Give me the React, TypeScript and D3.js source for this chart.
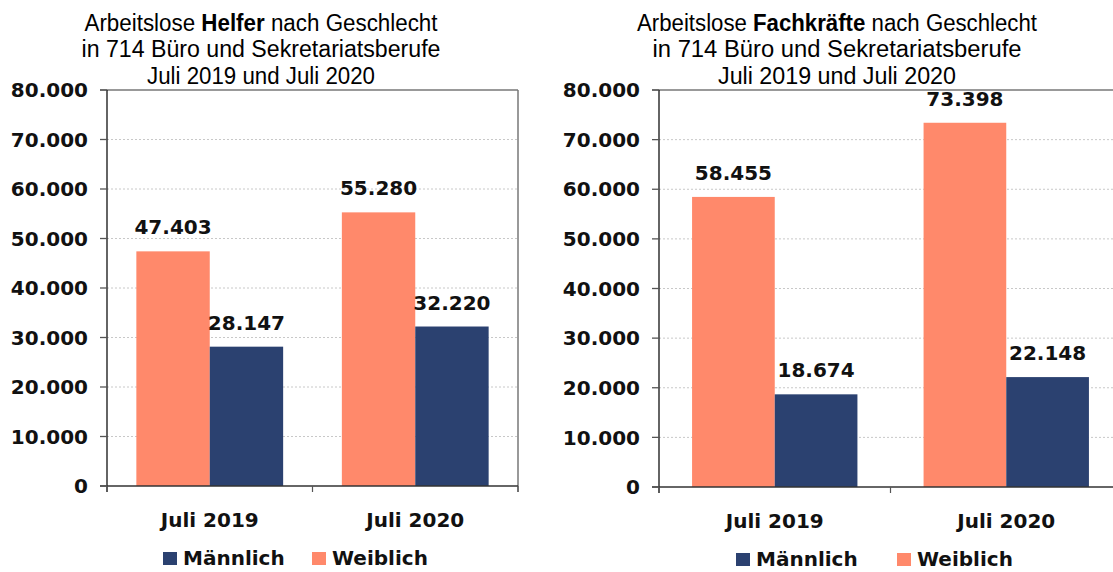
import * as d3 from 'd3';

// Kategorien und Werte (Arbeitslose, Juli 2019 / Juli 2020)
const categories = ['Juli 2019', 'Juli 2020'];
const seriesNames = ['Weiblich', 'Männlich'];
const legendOrder = ['Männlich', 'Weiblich'];

const helferWeiblich = [47403, 55280];
const helferMaennlich = [28147, 32220];
const fachWeiblich = [58455, 73398];
const fachMaennlich = [18674, 22148];

const yTicks = [0, 10000, 20000, 30000, 40000, 50000, 60000, 70000, 80000];

const colors: Record<string, string> = { 'Weiblich': '#FF896B', 'Männlich': '#2B4170' };

const de = d3.formatLocale({ decimal: ',', thousands: '.', grouping: [3], currency: ['', ' €'] });
const fmt = de.format(',d');

const BOLD = '"DejaVu Sans", Verdana, sans-serif';
const TITLE = '"Liberation Sans", Arial, sans-serif';

interface PanelProps {
  keyword: string;
  weiblich: number[];
  maennlich: number[];
  left: number;
  right: number;
  top: number;
  bottom: number;
  titleX: number;
  titleLens: number[];
  labelY: number;
  legendY: number;
  legendX: number[];
}

function Panel(p: PanelProps) {
  const y = d3.scaleLinear().domain([0, 80000]).range([p.bottom, p.top]);
  const x0 = d3.scaleBand().domain(categories).range([p.left, p.right]).padding(0);
  const x1 = d3.scaleBand().domain(seriesNames).range([0, x0.bandwidth()]).paddingInner(0).paddingOuter(0.4);
  const values: Record<string, number[]> = { 'Weiblich': p.weiblich, 'Männlich': p.maennlich };
  const edges = [...categories.map((c) => x0(c) ?? 0), p.right];

  return (
    <g>
      <text x={p.titleX} y={31} textAnchor="middle" fontFamily={TITLE} fontSize={23} textLength={p.titleLens[0]} lengthAdjust="spacingAndGlyphs">
        Arbeitslose <tspan fontWeight="bold">{p.keyword}</tspan> nach Geschlecht
      </text>
      <text x={p.titleX} y={57} textAnchor="middle" fontFamily={TITLE} fontSize={23} textLength={p.titleLens[1]} lengthAdjust="spacingAndGlyphs">
        in 714 Büro und Sekretariatsberufe
      </text>
      <text x={p.titleX} y={84} textAnchor="middle" fontFamily={TITLE} fontSize={23} textLength={p.titleLens[2]} lengthAdjust="spacingAndGlyphs">
        Juli 2019 und Juli 2020
      </text>

      {yTicks.filter((t) => t > 0 && t < 80000).map((t) => (
        <line key={'g' + t} x1={p.left} x2={p.right} y1={y(t)} y2={y(t)} stroke="#c8c8c8" strokeDasharray="2,2" />
      ))}

      {categories.map((c, i) => seriesNames.map((s) => {
        const v = values[s][i];
        const bx = (x0(c) ?? 0) + (x1(s) ?? 0);
        return (
          <g key={c + s}>
            <rect x={bx} y={y(v)} width={x1.bandwidth()} height={y(0) - y(v)} fill={colors[s]} />
            <text x={bx + x1.bandwidth() / 2} y={y(v) - 17} textAnchor="middle" fontFamily={BOLD} fontWeight="bold" fontSize={20} fill="#111">
              {fmt(v)}
            </text>
          </g>
        );
      }))}

      <line x1={p.left - 7} x2={p.right} y1={p.top} y2={p.top} stroke="#777" strokeWidth={1.5} />
      <line x1={p.right} x2={p.right} y1={p.top} y2={p.bottom + 6} stroke="#777" strokeWidth={1.5} />
      <line x1={p.left} x2={p.left} y1={p.top} y2={p.bottom + 6} stroke="#111" strokeWidth={1.3} />
      <line x1={p.left - 7} x2={p.right} y1={p.bottom} y2={p.bottom} stroke="#333" strokeWidth={1.5} />
      {edges.map((ex, i) => (
        <line key={'xt' + i} x1={ex} x2={ex} y1={p.bottom} y2={p.bottom + 6} stroke="#555" strokeWidth={1.2} />
      ))}

      {yTicks.map((t) => (
        <g key={'t' + t}>
          <line x1={p.left - 7} x2={p.left} y1={y(t)} y2={y(t)} stroke="#555" strokeWidth={1.3} />
          <text x={p.left - 19} y={y(t)} dy="0.36em" textAnchor="end" fontFamily={BOLD} fontWeight="bold" fontSize={20} fill="#111">
            {t === 0 ? '0' : fmt(t)}
          </text>
        </g>
      ))}

      {categories.map((c) => (
        <text key={'c' + c} x={(x0(c) ?? 0) + x0.bandwidth() / 2} y={p.labelY} textAnchor="middle" fontFamily={BOLD} fontWeight="bold" fontSize={20} fill="#111">
          {c}
        </text>
      ))}

      {legendOrder.map((s, i) => (
        <g key={'l' + s}>
          <rect x={p.legendX[i]} y={p.legendY - 13} width={14} height={13} fill={colors[s]} />
          <text x={p.legendX[i] + 20} y={p.legendY} fontFamily={BOLD} fontWeight="bold" fontSize={20} fill="#111">{s}</text>
        </g>
      ))}
    </g>
  );
}

export default function App() {
  return (
    <svg width={1113} height={572} style={{ position: 'absolute', left: 0, top: 0, background: '#fff' }}>
      <rect width={1113} height={572} fill="#fff" />
      <Panel keyword="Helfer" weiblich={helferWeiblich} maennlich={helferMaennlich}
        left={107} right={518} top={90} bottom={486} titleX={261} titleLens={[353, 359, 228]}
        labelY={527} legendY={565} legendX={[163, 312]} />
      <Panel keyword="Fachkräfte" weiblich={fachWeiblich} maennlich={fachMaennlich}
        left={659} right={1122} top={90} bottom={487} titleX={837} titleLens={[400, 369, 238]}
        labelY={528} legendY={566} legendX={[736, 897]} />
    </svg>
  );
}
